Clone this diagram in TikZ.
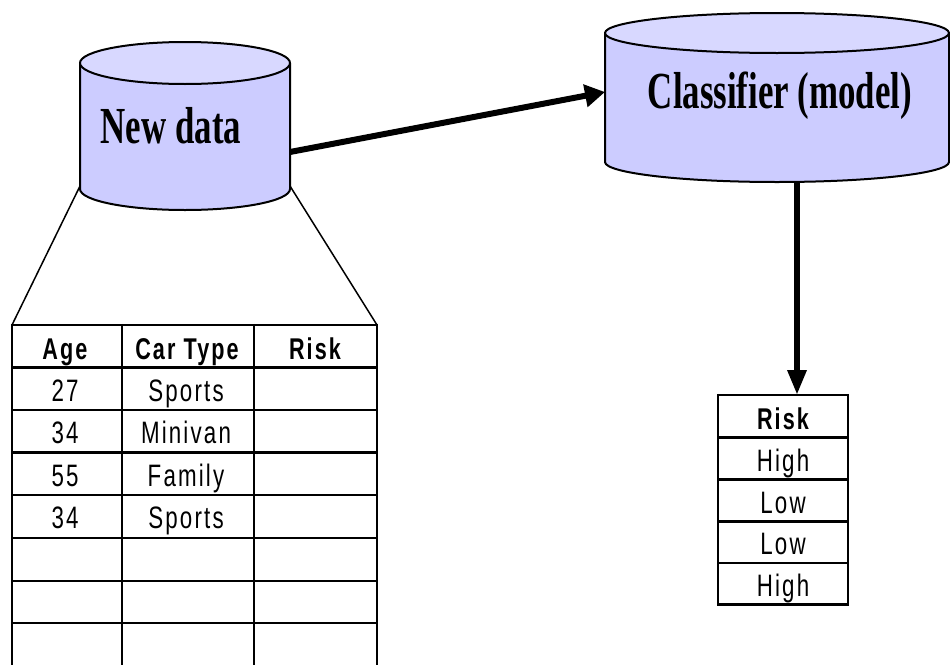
\documentclass[tikz,border=0pt]{standalone}
\usepackage{fontspec}
\newfontfamily\cylfont[FakeStretch=0.67]{Liberation Serif}
\newfontfamily\tabfont[FakeStretch=0.72,LetterSpace=7]{Liberation Sans}
\usetikzlibrary{arrows.meta}

\definecolor{cyltop}{RGB}{216,216,255}
\definecolor{cylside}{RGB}{204,204,255}

\tikzset{
  cylline/.style={line width=2pt, line join=round},
  cyltext/.style={font=\cylfont\bfseries\fontsize{52}{56}\selectfont, inner sep=0pt},
  gridline/.style={line width=2.2pt},
  funnel/.style={line width=1.5pt},
  headcell/.style={font=\tabfont\bfseries\fontsize{30}{32}\selectfont, anchor=base, inner sep=0pt},
  datacell/.style={font=\tabfont\fontsize{31}{33}\selectfont, anchor=base, inner sep=0pt},
  bigarrow/.style={line width=6pt, -{Triangle[length=20pt,width=22pt]}},
}

% database cylinder: centre x, x radius, top y, bottom y, y radius
\newcommand\dbcylinder[5]{%
  \fill[cylside] (#1-#2,#3) -- (#1-#2,#4)
     arc[start angle=180,end angle=0,x radius=#2,y radius=#5] -- (#1+#2,#3) -- cycle;
  \draw[cylline] (#1-#2,#3) -- (#1-#2,#4)
     arc[start angle=180,end angle=0,x radius=#2,y radius=#5] -- (#1+#2,#3);
  \draw[cylline, fill=cyltop] (#1,#3) ellipse[x radius=#2,y radius=#5];
}

\begin{document}
\begin{tikzpicture}[x=1pt,y=-1pt]
\useasboundingbox (0,0) rectangle (950,664);

% cylinders
\dbcylinder{185}{105}{63}{189}{21}
\dbcylinder{777}{172}{33}{162}{20}
\node[cyltext] (newdata) at (171,126) {New data};
\node[cyltext] (classifier) at (780,96) {Classifier (model)};

% connection points on the cylinders
\coordinate (nd-out) at (290,152);
\coordinate (nd-bl) at (80,186);
\coordinate (nd-br) at (290,186);
\coordinate (cl-in) at (605,92);
\coordinate (cl-out) at (797,182);

% new-data table
\coordinate (t-tl) at (12,325);
\coordinate (t-tr) at (377,325);
\foreach \y in {325,367.5,410,452.5,495,538,581,623}
  \draw[gridline] (12,\y) -- (377,\y);
\foreach \x in {12,122,254,377}
  \draw[gridline] (\x,323.9) -- (\x,666);

\node[headcell] (h-age)  at (65,359)  {Age};
\node[headcell] (h-car)  at (187,359) {Car Type};
\node[headcell] (h-risk) at (315,359) {Risk};
\node[datacell] (a1) at (65,401) {27};
\node[datacell] (c1) at (186,401) {Sports};
\node[datacell] (a2) at (65,443.5) {34};
\node[datacell] (c2) at (186,443.5) {Minivan};
\node[datacell] (a3) at (65,486) {55};
\node[datacell] (c3) at (186,486) {Family};
\node[datacell] (a4) at (65,528.5) {34};
\node[datacell] (c4) at (186,528.5) {Sports};

% funnel from the cylinder down to the table
\draw[funnel] (nd-bl) -- (t-tl);
\draw[funnel] (nd-br) -- (t-tr);

% predicted risk table
\coordinate (r-top) at (797,395);
\foreach \y in {395,437.5,479.5,521.5,563,604.5}
  \draw[gridline] (718,\y) -- (848,\y);
\foreach \x in {718,848}
  \draw[gridline] (\x,393.9) -- (\x,605.6);
\node[headcell] (r-h) at (783,429.5) {Risk};
\node[datacell] (r1) at (783,471) {High};
\node[datacell] (r2) at (783,513) {Low};
\node[datacell] (r3) at (783,554.5) {Low};
\node[datacell] (r4) at (783,596) {High};

% arrows
\draw[bigarrow] (nd-out) -- (cl-in);
\draw[bigarrow, -{Triangle[length=25pt,width=18pt]}] (cl-out) -- (r-top);
\end{tikzpicture}
\end{document}
